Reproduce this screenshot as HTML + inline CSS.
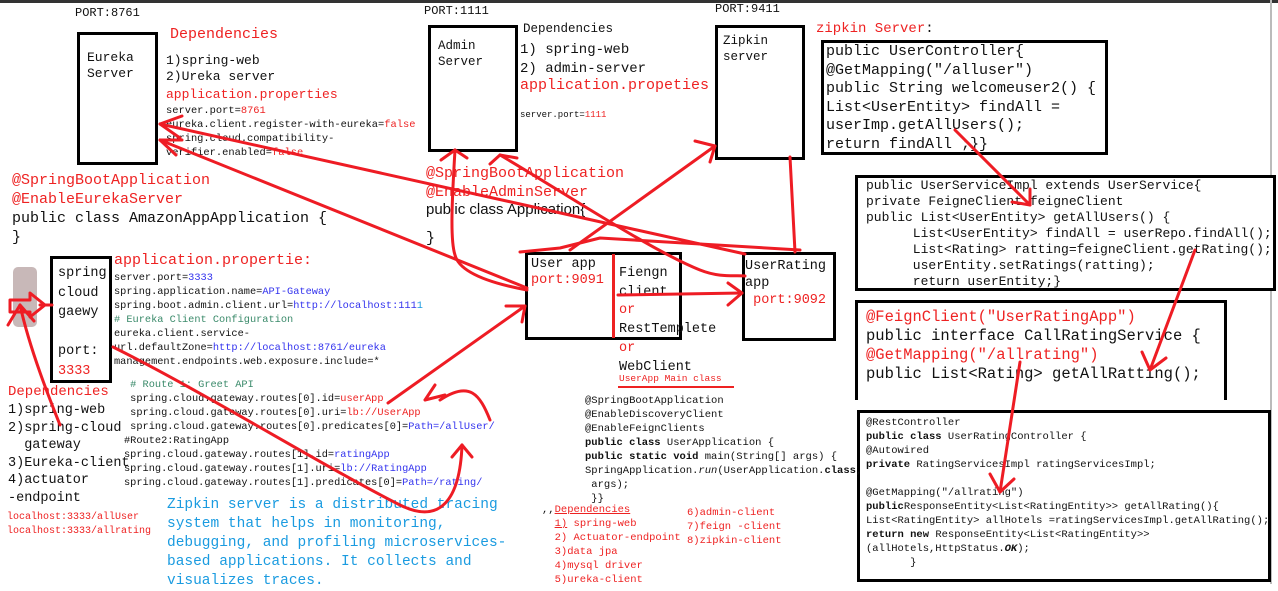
<!DOCTYPE html>
<html><head><meta charset="utf-8"><style>
*{margin:0;padding:0;box-sizing:border-box}
body{width:1278px;height:584px;background:#fff;position:relative;overflow:hidden;font-family:"Liberation Mono",monospace;color:#111}
.a{position:absolute;white-space:pre;line-height:1}
.b{position:absolute;border:3px solid #000;background:#fff}
.r{color:#ee2222}.bl{color:#3333ee}.g{color:#3a8a6a}.cy{color:#1a9be0}
.s{font-family:"Liberation Sans",sans-serif}
</style></head><body>
<div style="position:absolute;left:0;top:0;width:1278px;height:3px;background:#333"></div>
<div style="position:absolute;left:1270px;top:0;width:2px;height:584px;background:#bbb"></div>

<!-- Eureka -->
<div class="a" style="left:75px;top:7px;font-size:12px">PORT:8761</div>
<div class="b" style="left:77px;top:32px;width:81px;height:133px"></div>
<div class="a" style="left:87px;top:50px;font-size:13px;line-height:16px">Eureka
Server</div>
<div class="a r" style="left:170px;top:27px;font-size:15px">Dependencies</div>
<div class="a" style="left:166px;top:53px;font-size:13px;line-height:16px">1)spring-web
2)Ureka server</div>
<div class="a r" style="left:166px;top:88px;font-size:13px">application.properties</div>
<div class="a" style="left:166px;top:104px;font-size:10.4px;line-height:14px">server.port=<span class="r">8761</span>
eureka.client.register-with-eureka=<span class="r">false</span>
spring.cloud.compatibility-
verifier.enabled=<span class="r">false</span></div>
<div class="a r" style="left:12px;top:171px;font-size:15px;line-height:19px">@SpringBootApplication
@EnableEurekaServer</div>
<div class="a" style="left:12px;top:209px;font-size:15px;line-height:19px">public class AmazonAppApplication {
}</div>

<!-- Admin -->
<div class="a" style="left:424px;top:5px;font-size:12px">PORT:1111</div>
<div class="b" style="left:428px;top:25px;width:90px;height:127px"></div>
<div class="a" style="left:438px;top:38px;font-size:12.5px;line-height:16px">Admin
Server</div>
<div class="a" style="left:523px;top:23px;font-size:12.5px">Dependencies</div>
<div class="a" style="left:520px;top:41px;font-size:14px;line-height:19px">1) spring-web
2) admin-server</div>
<div class="a r" style="left:520px;top:78px;font-size:15px">application.propeties</div>
<div class="a" style="left:520px;top:111px;font-size:9px">server.port=<span class="r">1111</span></div>
<div class="a r" style="left:426px;top:164px;font-size:15px;line-height:19px">@SpringBootApplication
@EnableAdminServer</div>
<div class="a s" style="left:426px;top:202px;font-size:15px">public class Application{</div>
<div class="a" style="left:426px;top:231px;font-size:15px">}</div>

<!-- Zipkin -->
<div class="a" style="left:715px;top:3px;font-size:12px">PORT:9411</div>
<div class="b" style="left:715px;top:25px;width:90px;height:135px"></div>
<div class="a" style="left:723px;top:33px;font-size:12.5px;line-height:16px">Zipkin
server</div>
<div class="a" style="left:816px;top:22px;font-size:14px"><span class="r">zipkin Server</span>:</div>
<div class="b" style="left:821px;top:40px;width:287px;height:115px"></div>
<div class="a" style="left:826px;top:43px;font-size:15px;line-height:18.6px">public UserController{
@GetMapping("/alluser")
public String welcomeuser2() {
List&lt;UserEntity&gt; findAll =
userImp.getAllUsers();
return findAll ;}}</div>

<!-- UserServiceImpl -->
<div class="b" style="left:855px;top:175px;width:421px;height:116px"></div>
<div class="a" style="left:866px;top:178px;font-size:13px;line-height:16px">public UserServiceImpl extends UserService{
private FeigneClient feigneClient
public List&lt;UserEntity&gt; getAllUsers() {
      List&lt;UserEntity&gt; findAll = userRepo.findAll();
      List&lt;Rating&gt; ratting=feigneClient.getRating();
      userEntity.setRatings(ratting);
      return userEntity;}</div>

<!-- FeignClient -->
<div class="b" style="left:855px;top:300px;width:372px;height:100px;border-bottom:none"></div>
<div class="a" style="left:866px;top:308px;font-size:15.5px;line-height:19px"><span class="r">@FeignClient("UserRatingApp")</span>
public interface CallRatingService {
<span class="r">@GetMapping("/allrating")</span>
public List&lt;Rating&gt; getAllRatting();</div>

<!-- RestController -->
<div class="b" style="left:857px;top:410px;width:414px;height:172px"></div>
<div class="a" style="left:866px;top:416px;font-size:10.5px;line-height:14px">@RestController
<b>public class</b> UserRatingController {
@Autowired
<b>private</b> RatingServicesImpl ratingServicesImpl;

@GetMapping("/allrating")
<b>public</b>ResponseEntity&lt;List&lt;RatingEntity&gt;&gt; getAllRating(){
List&lt;RatingEntity&gt; allHotels =ratingServicesImpl.getAllRating();
<b>return new</b> ResponseEntity&lt;List&lt;RatingEntity&gt;&gt;
(allHotels,HttpStatus.<b><i>OK</i></b>);
       }</div>

<!-- Gateway -->
<div style="position:absolute;left:13px;top:267px;width:24px;height:60px;background:#c8b8b8;border-radius:5px"></div>
<div class="b" style="left:50px;top:256px;width:62px;height:127px"></div>
<div class="a" style="left:58px;top:264px;font-size:13.5px;line-height:19.5px">spring
cloud
gaewy

port:
<span class="r">3333</span></div>
<div class="a r" style="left:114px;top:253px;font-size:15px">application.propertie:</div>
<div class="a" style="left:114px;top:271px;font-size:10.3px;line-height:14px">server.port=<span class="bl">3333</span>
spring.application.name=<span class="bl">API-Gateway</span>
spring.boot.admin.client.url=<span class="bl">http://localhost:111</span><span class="cy">1</span>
<span class="g"># Eureka Client Configuration</span>
eureka.client.service-
url.defaultZone=<span class="bl">http://localhost:8761/eureka</span>
management.endpoints.web.exposure.include=*</div>
<div class="a" style="left:124px;top:378px;font-size:10.3px;line-height:14px"><span class="g"> # Route 1: Greet API</span>
 spring.cloud.gateway.routes[0].id=<span class="r">userApp</span>
 spring.cloud.gateway.routes[0].uri=<span class="r">lb://UserApp</span>
 spring.cloud.gateway.routes[0].predicates[0]=<span class="bl">Path=/allUser/</span>
#Route2:RatingApp
spring.cloud.gateway.routes[1].id=<span class="bl">ratingApp</span>
spring.cloud.gateway.routes[1].uri=<span class="bl">lb://RatingApp</span>
spring.cloud.gateway.routes[1].predicates[0]=<span class="bl">Path=/rating/</span></div>
<div class="a r" style="left:8px;top:385px;font-size:14px">Dependencies</div>
<div class="a" style="left:8px;top:402px;font-size:13.5px;line-height:17.5px">1)spring-web
2)spring-cloud
  gateway
3)Eureka-client
4)actuator
-endpoint</div>
<div class="a r" style="left:7px;top:511px;font-size:10px;line-height:14px">localhost:3333/allUser
localhost:3333/allrating</div>
<div class="a cy" style="left:167px;top:496px;font-size:14.5px;line-height:19px">Zipkin server is a distributed tracing
system that helps in monitoring,
debugging, and profiling microservices-
based applications. It collects and
visualizes traces.</div>

<!-- User app -->
<div class="b" style="left:525px;top:252px;width:157px;height:88px"></div>
<div style="position:absolute;left:612px;top:254px;width:3px;height:84px;background:#ee2222"></div>
<div class="a" style="left:531px;top:257px;font-size:13.5px;line-height:16px">User app
<span class="r">port:9091</span></div>
<div class="a" style="left:619px;top:265px;font-size:13.5px;line-height:18.7px">Fiengn
client
<span class="r">or</span>
RestTemplete
<span class="r">or</span>
WebClient</div>
<div class="a r" style="left:619px;top:374px;font-size:9.5px">UserApp Main class</div>
<div style="position:absolute;left:618px;top:386px;width:116px;height:2px;background:#ee2222"></div>
<div class="b" style="left:742px;top:252px;width:94px;height:89px"></div>
<div class="a" style="left:745px;top:258px;font-size:13.5px;line-height:17px">UserRating
app
<span class="r"> port:9092</span></div>

<div class="a" style="left:585px;top:394px;font-size:10.5px;line-height:14px">@SpringBootApplication
@EnableDiscoveryClient
@EnableFeignClients
<b>public class</b> UserApplication {
<b>public static void</b> main(String[] args) {
SpringApplication.<i>run</i>(UserApplication.<b>class</b>,
 args);
 }}</div>
<div class="a r" style="left:542px;top:503px;font-size:10.5px;line-height:14px"><span style="color:#111">,,</span><u>Dependencies</u>
  <u>1)</u> spring-web
  2) Actuator-endpoint
  3)data jpa
  4)mysql driver
  5)ureka-client</div>
<div class="a r" style="left:687px;top:506px;font-size:10.5px;line-height:14px">6)admin-client
7)feign -client
8)zipkin-client</div>

<svg width="1278" height="584" style="position:absolute;left:0;top:0" fill="none" stroke="#ee1c24" stroke-width="3" stroke-linecap="round" stroke-linejoin="round">
<path d="M160 124 L745 254"/><path d="M160 124 l22 -8 M160 124 l20 14"/>
<path d="M160 140 L527 288"/><path d="M160 140 l22 0 M160 140 l16 15"/>
<path d="M455 150 C452 200 450 240 455 255 C460 275 500 285 527 290"/><path d="M455 150 l-14 10 M455 150 l12 8"/>
<path d="M500 155 C560 190 650 250 700 270 C720 278 735 275 745 276"/><path d="M500 155 l-10 9 M500 155 l17 3"/>
<path d="M570 250 L715 146"/><path d="M715 146 l-20 -5 M715 146 l-5 16"/>
<path d="M790 157 L795 252"/>
<path d="M520 252 L560 248 L600 238 L800 250"/>
<path d="M618 295 L742 293"/><path d="M742 293 l-14 -10 M742 293 l-14 12"/>
<path d="M10 300 L30 300 L30 293 L45 305 L30 317 L30 312 L10 312 Z" stroke-width="3"/>
<path d="M40 305 L52 305"/>
<path d="M20 305 C30 350 50 400 60 425"/><path d="M20 305 l-12 20 M20 305 l14 16"/>
<path d="M113 347 C200 390 330 470 400 505 C440 525 460 500 462 445"/><path d="M462 445 l-10 12 M462 445 l10 12"/>
<path d="M388 403 L525 306"/><path d="M525 306 l-19 0 M525 306 l-3 16"/>
<path d="M490 420 C480 395 470 380 440 400"/><path d="M425 400 l20 -5 M425 400 l10 -15"/>
<path d="M955 130 L1030 205"/><path d="M1030 205 l-18 -3 M1030 205 l0 -16"/>
<path d="M1195 250 L1150 370"/><path d="M1150 370 l-8 -18 M1150 370 l16 -12"/>
<path d="M1020 362 L1000 492"/><path d="M1000 492 l-10 -18 M1000 492 l14 -13"/>
</svg>
</body></html>
